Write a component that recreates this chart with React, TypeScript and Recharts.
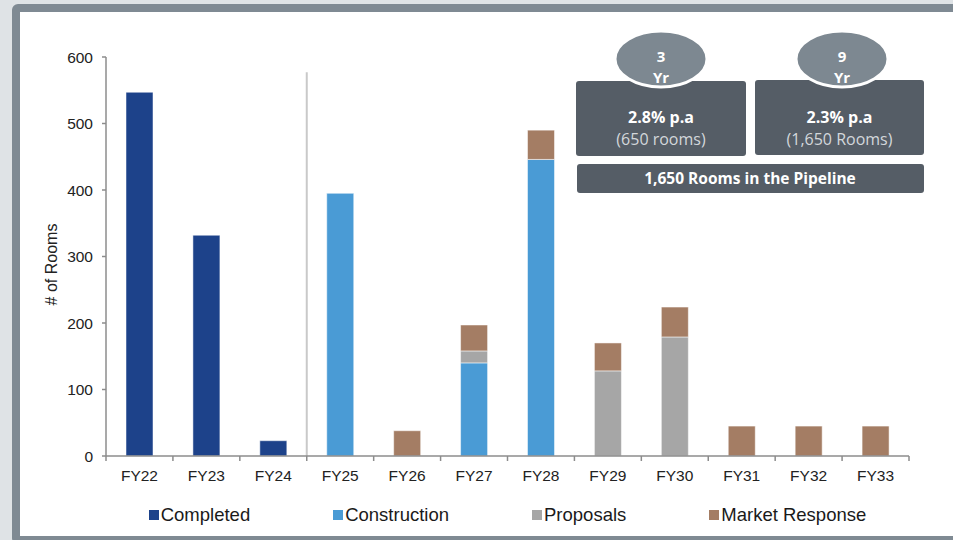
import { Bar, BarChart, ReferenceArea, XAxis, YAxis } from "recharts";

const years = ["FY22", "FY23", "FY24", "FY25", "FY26", "FY27", "FY28", "FY29", "FY30", "FY31", "FY32", "FY33"];
const completed = [547, 332, 23, 0, 0, 0, 0, 0, 0, 0, 0, 0];
const construction = [0, 0, 0, 395, 0, 140, 446, 0, 0, 0, 0, 0];
const proposals = [0, 0, 0, 0, 0, 18, 0, 128, 179, 0, 0, 0];
const marketResponse = [0, 0, 0, 0, 38, 39, 44, 42, 45, 45, 45, 45];
const yTicks = [0, 100, 200, 300, 400, 500, 600];

const seriesKeys = ["completed", "construction", "proposals", "marketResponse"];
const seriesNames = ["Completed", "Construction", "Proposals", "Market Response"];
const seriesColors = ["#1d428a", "#4a9bd5", "#a6a6a6", "#a47d64"];

// pipeline divider starts at FY25 and stops short of the top tick
const dividerFrom = "FY25";
const dividerTop = 577;

const data = years.map((year, i) => ({
  year,
  completed: completed[i],
  construction: construction[i],
  proposals: proposals[i],
  marketResponse: marketResponse[i],
}));

const FONT = '"Liberation Sans", Arial, sans-serif';
const BADGE_FONT = '"Open Sans", sans-serif';

// category labels centred, tick marks on the band edges
function YearTick(props: any) {
  const { x, y, payload, index } = props;
  const half = payload.offset ?? 0;
  const last = index === years.length - 1;
  return (
    <g>
      <line x1={x - half} x2={x - half} y1={y - 5} y2={y} stroke="#8c8c8c" strokeWidth={1.5} />
      {last && <line x1={x + half} x2={x + half} y1={y - 5} y2={y} stroke="#8c8c8c" strokeWidth={1.5} />}
      <text x={x} y={y + 20} textAnchor="middle" fontFamily={FONT} fontSize={15.5} fill="#222">
        {payload.value}
      </text>
    </g>
  );
}

function DividerShape(props: any) {
  const { x, y, height } = props;
  return <line x1={x} x2={x} y1={y} y2={y + height} stroke="#c9c9c9" strokeWidth={2} />;
}

function YLabel(props: any) {
  const { viewBox } = props;
  const cx = viewBox.x + 5;
  const cy = viewBox.y + viewBox.height / 2 + 8;
  return (
    <text
      x={cx}
      y={cy}
      transform={`rotate(-90 ${cx} ${cy})`}
      textAnchor="middle"
      dominantBaseline="central"
      fontFamily={FONT}
      fontSize={16}
      fill="#222"
    >
      # of Rooms
    </text>
  );
}

// period bubble: "3 / Yr" stacked on two lines
function Badge({ cx, label }: { cx: number; label: string }) {
  return (
    <g>
      <ellipse cx={cx} cy={59} rx={46} ry={28} fill="#7d8891" stroke="#fff" strokeWidth={3} />
      <text x={cx} y={62} textAnchor="middle" fontFamily={BADGE_FONT} fontSize={15} fontWeight={700} fill="#fff">
        {label}
      </text>
      <text x={cx} y={82.5} textAnchor="middle" fontFamily={BADGE_FONT} fontSize={15} fontWeight={700} fill="#fff">
        Yr
      </text>
    </g>
  );
}

function GrowthBox({ x, y, w, rate, rooms }: { x: number; y: number; w: number; rate: string; rooms: string }) {
  return (
    <g>
      <rect x={x} y={y} width={w} height={75} rx={3} fill="#555d66" />
      <text x={x + w / 2} y={123} textAnchor="middle" fontFamily={BADGE_FONT} fontSize={16} fontWeight={700} fill="#fff">
        {rate}
      </text>
      <text x={x + w / 2} y={145} textAnchor="middle" fontFamily={BADGE_FONT} fontSize={16} fill="#d3d7db">
        {rooms}
      </text>
    </g>
  );
}

export default function App() {
  return (
    <div style={{ position: "absolute", left: 0, top: 0, width: 953, height: 540, overflow: "hidden", background: "#dfe3e6" }}>
      <style>{`body{margin:0}`}</style>
      <div
        style={{
          position: "absolute",
          left: 12,
          top: 4,
          width: 949,
          height: 540,
          boxSizing: "border-box",
          border: "8px solid #7f8a93",
          borderRadius: 6,
          background: "#fff",
        }}
      />
      <div style={{ position: "absolute", left: 0, top: 0 }}>
        <BarChart width={953} height={540} data={data} margin={{ top: 57, right: 44, bottom: 54, left: 46 }} barSize={27}>
          <XAxis
            dataKey="year"
            height={30}
            tick={<YearTick />}
            tickLine={false}
            tickSize={5}
            tickMargin={0}
            interval={0}
            axisLine={{ stroke: "#8c8c8c", strokeWidth: 1.5 }}
          />
          <YAxis
            width={60}
            domain={[0, 600]}
            ticks={yTicks}
            interval={0}
            tickSize={4}
            tickMargin={9}
            tick={{ fill: "#222", fontSize: 15.5, fontFamily: FONT }}
            tickLine={{ stroke: "#8c8c8c", strokeWidth: 1.5 }}
            axisLine={{ stroke: "#8c8c8c", strokeWidth: 1.5 }}
            label={<YLabel />}
          />
          <ReferenceArea x1={dividerFrom} x2={dividerFrom} y1={0} y2={dividerTop} shape={<DividerShape />} ifOverflow="visible" />
          {seriesKeys.map((key, i) => (
            <Bar
              key={key}
              dataKey={key}
              name={seriesNames[i]}
              stackId="rooms"
              fill={seriesColors[i]}
              stroke="#ffffff"
              strokeWidth={0.5}
              isAnimationActive={false}
            />
          ))}
        </BarChart>
      </div>
      <svg width={953} height={540} style={{ position: "absolute", left: 0, top: 0, pointerEvents: "none" }}>
        <GrowthBox x={576} y={81} w={170} rate="2.8% p.a" rooms="(650 rooms)" />
        <GrowthBox x={755} y={80} w={169} rate="2.3% p.a" rooms="(1,650 Rooms)" />
        <Badge cx={661} label="3" />
        <Badge cx={842} label="9" />
        <rect x={577} y={164} width={347} height={29} rx={3} fill="#555d66" />
        <text x={750} y={184} textAnchor="middle" fontFamily={BADGE_FONT} fontSize={15.5} fontWeight={700} fill="#fff">
          1,650 Rooms in the Pipeline
        </text>
      </svg>
      <div
        style={{
          position: "absolute",
          left: 106,
          width: 803,
          top: 504,
          display: "flex",
          justifyContent: "center",
          gap: 83,
          fontFamily: FONT,
          fontSize: 18.5,
          color: "#1a1a1a",
        }}
      >
        {seriesNames.map((name, i) => (
          <div key={name} style={{ display: "flex", alignItems: "center" }}>
            <span style={{ width: 10, height: 10, background: seriesColors[i], marginRight: 2, display: "inline-block" }} />
            <span>{name}</span>
          </div>
        ))}
      </div>
    </div>
  );
}
